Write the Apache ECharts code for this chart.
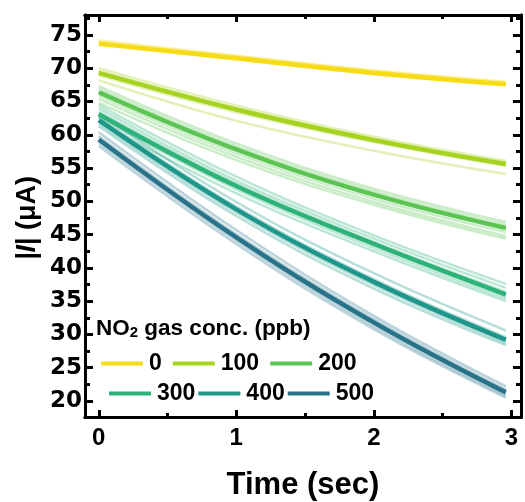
<!DOCTYPE html>
<html>
<head>
<meta charset="utf-8">
<script src="https://cdn.jsdelivr.net/npm/echarts@6/dist/echarts.min.js"></script>
<style>
  html, body { margin: 0; padding: 0; background: #fff; }
  #chart { width: 525px; height: 502px; }
</style>
</head>
<body>
<div id="chart"></div>
<script>
// Current transients |I| (µA) over time for several NO2 concentrations.
var times = [0, 1, 2, 2.96];

// Averaged curve for each concentration (ppb)
var concentrations = ['0', '100', '200', '300', '400', '500'];
var mean0   = [73.7, 71.5, 69.3, 67.6];
var mean100 = [69.3, 63.8, 59.2, 55.6];
var mean200 = [66.4, 57.8, 51.0, 46.0];
var mean300 = [63.1, 52.3, 43.6, 36.0];
var mean400 = [62.2, 48.8, 37.9, 29.2];
var mean500 = [59.3, 44.6, 31.8, 21.3];

// Individual repeated measurements, drawn faintly behind each mean
var reps0   = [[74.2, 71.9, 69.7, 68.0], [74.0, 71.8, 69.6, 67.9], [73.5, 71.3, 69.1, 67.4]];
var reps100 = [[70.0, 64.4, 59.7, 56.1], [69.6, 64.0, 59.4, 55.8], [68.9, 63.4, 58.9, 55.3], [68.2, 62.1, 57.6, 54.1]];
var reps200 = [[67.3, 58.7, 51.9, 46.9], [66.9, 58.3, 51.5, 46.5], [65.9, 57.2, 50.4, 45.4], [65.4, 56.7, 49.9, 44.8], [64.8, 56.2, 49.5, 44.4]];
var reps300 = [[64.5, 53.7, 44.9, 37.6], [64.0, 53.1, 44.4, 37.0], [63.5, 52.7, 43.9, 36.4], [62.6, 51.8, 43.0, 35.4], [62.0, 51.2, 42.5, 35.0]];
var reps400 = [[63.2, 49.9, 39.2, 30.6], [62.6, 49.2, 38.3, 29.6], [61.7, 48.3, 37.4, 28.7], [61.3, 47.8, 36.9, 28.4]];
var reps500 = [[60.4, 45.7, 32.8, 22.2], [59.8, 45.1, 32.3, 21.7], [58.8, 44.1, 31.2, 20.8], [58.3, 43.6, 30.8, 20.5]];

// Axis ticks
var xMajorTicks = [0, 1, 2, 3];
var xMinorTicks = [0.5, 1.5, 2.5];
var yMajorTicks = [20, 25, 30, 35, 40, 45, 50, 55, 60, 65, 70, 75];
var yMinorTicks = [22.5, 27.5, 32.5, 37.5, 42.5, 47.5, 52.5, 57.5, 62.5, 67.5, 72.5, 77.5];

var colors = ['#f6dc17', '#a5d31f', '#5cc453', '#2db27a', '#1e978a', '#28738a'];
var means = [mean0, mean100, mean200, mean300, mean400, mean500];
var reps = [reps0, reps100, reps200, reps300, reps400, reps500];

var FONT = "'Liberation Sans', Arial, sans-serif";
var WIDE_FONT = "'DejaVu Sans', 'Liberation Sans', sans-serif";

function pairs(vals) {
  return times.map(function (t, i) { return [t, vals[i]]; });
}

var series = [];
concentrations.forEach(function (c, g) {
  reps[g].forEach(function (r, k) {
    series.push({
      name: c + '_rep' + k,
      type: 'line',
      data: pairs(r),
      smooth: 0.4,
      symbol: 'none',
      silent: true,
      lineStyle: { color: colors[g], width: 2.5, opacity: 0.32 },
      z: 2
    });
  });
});
concentrations.forEach(function (c, g) {
  series.push({
    name: c,
    type: 'line',
    data: pairs(means[g]),
    smooth: 0.4,
    symbol: 'none',
    itemStyle: { color: colors[g] },
    lineStyle: { color: colors[g], width: 4.5 },
    z: 3
  });
});

var xRange = { min: -0.1, max: 3.07 };
var yRange = { min: 17.6, max: 78 };

function frameAxis(kind, pos, ticks, len, labels, extra) {
  var a = {
    type: 'value',
    position: pos,
    min: kind === 'x' ? xRange.min : yRange.min,
    max: kind === 'x' ? xRange.max : yRange.max,
    splitLine: { show: false },
    axisLine: { show: true, onZero: false, lineStyle: { color: '#000', width: 3 } },
    axisTick: { show: true, inside: true, length: len, customValues: ticks, lineStyle: { color: '#000', width: 3 } },
    axisLabel: labels ? {
      show: true, customValues: ticks, color: '#000', fontWeight: 'bold',
      fontFamily: kind === 'x' ? FONT : WIDE_FONT,
      fontSize: kind === 'x' ? 24 : 23,
      margin: kind === 'x' ? 9 : 3
    } : { show: false }
  };
  return Object.assign(a, extra || {});
}

var option = {
  animation: false,
  backgroundColor: '#fff',
  grid: { left: 85, right: 4, top: 15, bottom: 85, outerBoundsMode: 'none', containLabel: false },
  xAxis: [
    frameAxis('x', 'bottom', xMajorTicks, 7, true, {
      name: 'Time (sec)', nameLocation: 'middle', nameGap: 53,
      nameTextStyle: { color: '#000', fontFamily: FONT, fontWeight: 'bold', fontSize: 31 }
    }),
    frameAxis('x', 'top', xMajorTicks, 7, false),
    frameAxis('x', 'bottom', xMinorTicks, 4, false),
    frameAxis('x', 'top', xMinorTicks, 4, false)
  ],
  yAxis: [
    frameAxis('y', 'left', yMajorTicks, 8, true),
    frameAxis('y', 'right', yMajorTicks, 8, false),
    frameAxis('y', 'left', yMinorTicks, 5, false),
    frameAxis('y', 'right', yMinorTicks, 5, false)
  ],
  legend: [
    {
      data: concentrations.slice(0, 3), left: 96, top: 347, orient: 'horizontal',
      icon: 'rect', itemWidth: 42, itemHeight: 4, itemGap: 11,
      textStyle: { color: '#000', fontFamily: FONT, fontWeight: 'bold', fontSize: 23, padding: [0, 0, 0, 1] },
      selectedMode: false
    },
    {
      data: concentrations.slice(3), left: 104, top: 377, orient: 'horizontal',
      icon: 'rect', itemWidth: 42, itemHeight: 4, itemGap: 3,
      textStyle: { color: '#000', fontFamily: FONT, fontWeight: 'bold', fontSize: 23, padding: [0, 0, 0, 1] },
      selectedMode: false
    }
  ],
  graphic: [
    {
      // y-axis title
      type: 'text', x: 28, y: 218, rotation: Math.PI / 2,
      style: {
        text: '{it||I}{n|| (μA)}',
        align: 'center', verticalAlign: 'middle',
        fill: '#000', font: 'bold 27px ' + FONT,
        rich: {
          it: { fontStyle: 'italic', fontWeight: 'bold', fontSize: 27, fontFamily: FONT },
          n: { fontWeight: 'bold', fontSize: 27, fontFamily: FONT }
        }
      }
    },
    {
      // legend heading
      type: 'text', left: 96, top: 317,
      style: {
        text: 'NO{sub|2} gas conc. (ppb)',
        fill: '#000', font: 'bold 22.5px ' + FONT,
        rich: { sub: { fontSize: 15, fontWeight: 'bold', fontFamily: FONT, verticalAlign: 'bottom', padding: [9, 0, 0, 0] } }
      }
    }
  ],
  series: series
};

var chart = echarts.init(document.getElementById('chart'), null, { renderer: 'canvas' });
chart.setOption(option);
</script>
</body>
</html>
